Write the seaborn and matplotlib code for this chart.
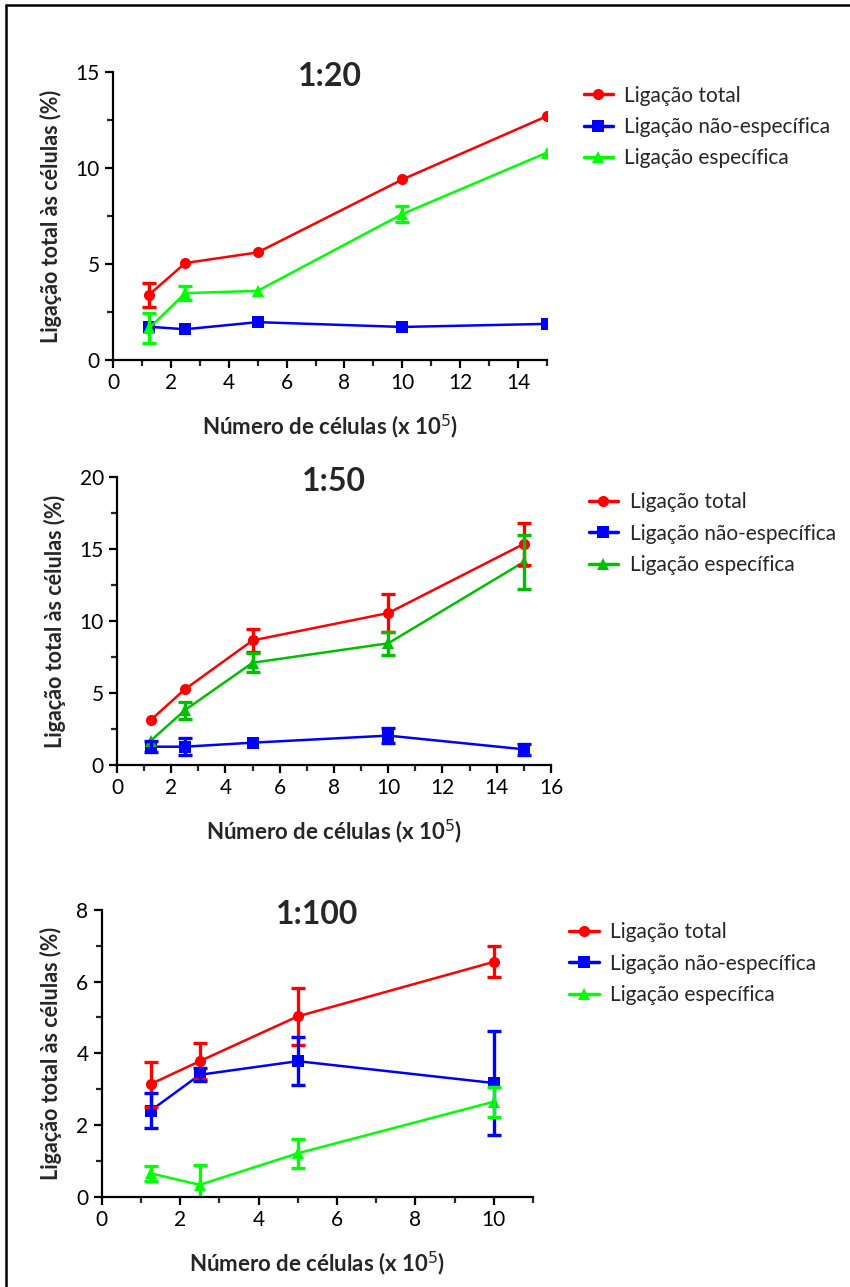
import numpy as np
import pandas as pd
import matplotlib
matplotlib.use("Agg")
import matplotlib.pyplot as plt
import seaborn as sns
from matplotlib.lines import Line2D
from matplotlib.ticker import MultipleLocator, AutoMinorLocator

# data (mean and error per point)
x_cells = [1.25, 2.5, 5, 10, 15]
x_cells_100 = [1.25, 2.5, 5, 10]

tot_20 = [3.4, 5.05, 5.6, 9.4, 12.7]
tot_20_err = [0.63, 0, 0, 0, 0]
nesp_20 = [1.73, 1.6, 1.97, 1.72, 1.88]
nesp_20_err = [0, 0, 0, 0, 0]
esp_20 = [1.66, 3.48, 3.6, 7.6, 10.8]
esp_20_err = [0.78, 0.35, 0, 0.4, 0]

tot_50 = [3.13, 5.25, 8.65, 10.55, 15.35]
tot_50_err = [0, 0, 0.8, 1.3, 1.45]
nesp_50 = [1.27, 1.27, 1.55, 2.04, 1.09]
nesp_50_err = [0.4, 0.6, 0, 0.5, 0.4]
esp_50 = [1.69, 3.8, 7.1, 8.45, 14.1]
esp_50_err = [0, 0.6, 0.65, 0.8, 1.9]

tot_100 = [3.14, 3.78, 5.03, 6.55]
tot_100_err = [0.63, 0.5, 0.8, 0.43]
nesp_100 = [2.4, 3.4, 3.78, 3.17]
nesp_100_err = [0.49, 0.18, 0.67, 1.45]
esp_100 = [0.65, 0.33, 1.21, 2.65]
esp_100_err = [0.2, 0.54, 0.4, 0.42]

series_names = ["Ligação total", "Ligação não-específica", "Ligação específica"]
titles = ["1:20", "1:50", "1:100"]

sns.set_style("ticks")
plt.rcParams["font.family"] = ["Lato", "DejaVu Sans"]

RED = "#ff0000"
BLUE = "#0000ff"
LIME = "#00ff00"
GREEN = "#00c000"
MARKERS = ["o", "s", "^"]


def panel(fig, rect, title, x, series, colors, xmax, xmajor, ymax, ymajor, legend_xy):
    ax = fig.add_axes(rect)
    rows = []
    for name, (y, err) in zip(series_names, series):
        for xi, yi, ei in zip(x, y, err):
            rows.append({"x": xi, "y": yi, "err": ei, "serie": name})
    df = pd.DataFrame(rows)
    palette = dict(zip(series_names, colors))
    sns.lineplot(data=df, x="x", y="y", hue="serie", style="serie",
                 palette=palette, markers=dict(zip(series_names, MARKERS)),
                 dashes=False, markersize=8, markeredgewidth=0, linewidth=1.8,
                 legend=False, ax=ax)
    for name, c in zip(series_names, colors):
        sub = df[(df.serie == name) & (df.err > 0)]
        ax.errorbar(sub.x, sub.y, yerr=sub.err, fmt="none", ecolor=c,
                    elinewidth=2.4, capsize=5, capthick=2.4)

    ax.set_xlim(0, xmax)
    ax.set_ylim(0, ymax)
    ax.xaxis.set_major_locator(MultipleLocator(xmajor))
    ax.xaxis.set_minor_locator(AutoMinorLocator(2))
    ax.yaxis.set_major_locator(MultipleLocator(ymajor))
    ax.yaxis.set_minor_locator(AutoMinorLocator(2))
    ax.tick_params(which="major", length=6, width=1.6, labelsize=15, colors="black")
    ax.tick_params(which="minor", length=4, width=1.6)
    sns.despine(ax=ax)
    for s in ["left", "bottom"]:
        ax.spines[s].set_linewidth(1.6)
        ax.spines[s].set_color("black")
    ax.set_xlabel("Número de células (x 10$^5$)", fontsize=16, fontweight="bold", labelpad=14)
    ax.set_ylabel("Ligação total às células (%)", fontsize=15.5, fontweight="bold", labelpad=10)
    ax.set_title(title, fontsize=23, fontweight="bold", y=0.985, pad=0, va="center")

    handles = [Line2D([0], [0], color=c, marker=m, markersize=8, linewidth=2.5,
                      markeredgewidth=0)
               for c, m in zip(colors, MARKERS)]
    fig.legend(handles, series_names, loc="upper left", bbox_to_anchor=legend_xy,
               frameon=False, fontsize=15, handlelength=1.4, handletextpad=0.55,
               labelspacing=0.55, borderaxespad=0)
    return ax


fig = plt.figure(figsize=(8.5, 12.87), dpi=100)

panel(fig, [0.1329, 0.7203, 0.5106, 0.2238], titles[0], x_cells,
      [(tot_20, tot_20_err), (nesp_20, nesp_20_err), (esp_20, esp_20_err)],
      [RED, BLUE, LIME], 15, 2, 15, 5, (0.677, 0.94))
panel(fig, [0.1376, 0.4056, 0.5106, 0.2238], titles[1], x_cells,
      [(tot_50, tot_50_err), (nesp_50, nesp_50_err), (esp_50, esp_50_err)],
      [RED, BLUE, GREEN], 16, 2, 20, 5, (0.683, 0.624))
panel(fig, [0.1196, 0.0702, 0.5075, 0.2228], titles[2], x_cells_100,
      [(tot_100, tot_100_err), (nesp_100, nesp_100_err), (esp_100, esp_100_err)],
      [RED, BLUE, LIME], 11, 2, 8, 2, (0.66, 0.29))

# frame drawn around the original figure
fig.add_artist(Line2D([6 / 850, 6 / 850], [0, 1 - 5 / 1287], color="black", lw=1.8,
                      transform=fig.transFigure))
fig.add_artist(Line2D([6 / 850, 1], [1 - 5 / 1287, 1 - 5 / 1287], color="black", lw=1.8,
                      transform=fig.transFigure))

fig.savefig("out.png", dpi=100)
